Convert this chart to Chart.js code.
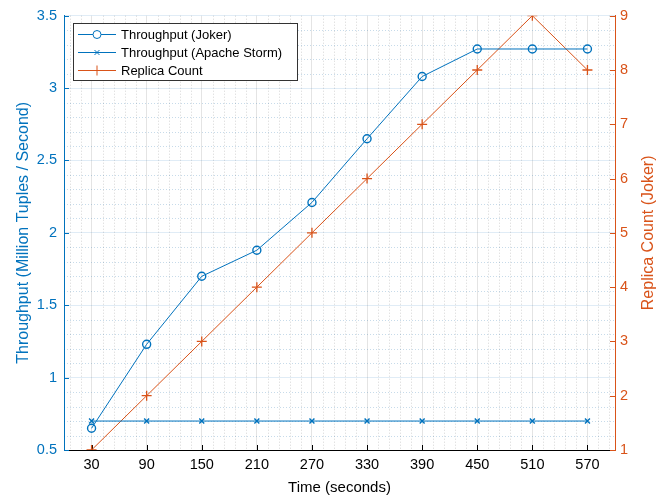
<!DOCTYPE html>
<html>
<head>
<meta charset="utf-8">
<script src="https://cdn.jsdelivr.net/npm/chart.js@4/dist/chart.umd.min.js"></script>
<style>
  html, body { margin: 0; padding: 0; background: #fff; }
  #wrap { width: 664px; height: 498px; }
</style>
</head>
<body>
<div id="wrap"><canvas id="chart" width="664" height="498"></canvas></div>
<script>
const times = ['30', '90', '150', '210', '270', '330', '390', '450', '510', '570'];
const jokerThroughput = [0.65, 1.23, 1.70, 1.88, 2.21, 2.65, 3.08, 3.27, 3.27, 3.27];
const stormThroughput = [0.70, 0.70, 0.70, 0.70, 0.70, 0.70, 0.70, 0.70, 0.70, 0.70];
const replicaCount = [1, 2, 3, 4, 5, 6, 7, 8, 9, 8];
const leftTicks = [0.5, 1, 1.5, 2, 2.5, 3, 3.5];
const rightTicks = [1, 2, 3, 4, 5, 6, 7, 8, 9];

const BLUE = '#0072BD';
const ORANGE = '#D95319';
const FONT = 'Liberation Sans, Arial, Helvetica, sans-serif';

// dotted minor grid + inward tick marks, drawn under the lines
const minorGrid = {
  id: 'minorGrid',
  beforeDatasetsDraw(chart) {
    const { ctx, chartArea: a, scales } = chart;
    const x = scales.x, y = scales.y, y1 = scales.y1;
    ctx.save();
    ctx.lineWidth = 1;
    ctx.setLineDash([1, 2]);
    ctx.strokeStyle = 'rgba(90,90,90,0.25)';
    for (let j = -2; j <= 47; j++) {
      if (j % 5 === 0) continue;
      const px = Math.round(x.getPixelForValue(j * 0.2)) + 0.5;
      if (px <= a.left + 1 || px >= a.right - 1) continue;
      ctx.beginPath(); ctx.moveTo(px, a.top); ctx.lineTo(px, a.bottom); ctx.stroke();
    }
    ctx.strokeStyle = 'rgba(0,90,160,0.22)';
    for (let k = 6; k < 35; k++) {
      if (k % 5 === 0) continue;
      const py = Math.round(y.getPixelForValue(k / 10)) + 0.5;
      ctx.beginPath(); ctx.moveTo(a.left, py); ctx.lineTo(a.right, py); ctx.stroke();
    }
    ctx.setLineDash([]);
    const len = 5;
    ctx.strokeStyle = '#000';
    times.forEach((t, i) => {
      const px = Math.round(x.getPixelForValue(i)) + 0.5;
      ctx.beginPath(); ctx.moveTo(px, a.bottom); ctx.lineTo(px, a.bottom - len); ctx.stroke();
    });
    ctx.strokeStyle = BLUE;
    leftTicks.forEach(v => {
      const py = Math.round(y.getPixelForValue(v)) + 0.5;
      ctx.beginPath(); ctx.moveTo(a.left, py); ctx.lineTo(a.left + len, py); ctx.stroke();
    });
    ctx.strokeStyle = ORANGE;
    rightTicks.forEach(v => {
      const py = Math.round(y1.getPixelForValue(v)) + 0.5;
      ctx.beginPath(); ctx.moveTo(a.right, py); ctx.lineTo(a.right - len, py); ctx.stroke();
    });
    ctx.restore();
  }
};

// right axis title, reading bottom to top like the left one
const rightTitle = {
  id: 'rightTitle',
  afterDraw(chart) {
    const { ctx, chartArea: a } = chart;
    ctx.save();
    ctx.translate(649, (a.top + a.bottom) / 2);
    ctx.rotate(-Math.PI / 2);
    ctx.font = '16px ' + FONT;
    ctx.fillStyle = ORANGE;
    ctx.textAlign = 'center';
    ctx.textBaseline = 'middle';
    ctx.fillText('Replica Count (Joker)', 0, 0);
    ctx.restore();
  }
};

// boxed legend in the upper-left corner of the plot
const boxLegend = {
  id: 'boxLegend',
  afterDraw(chart) {
    const { ctx } = chart;
    const left = 73.5, top = 23.5, w = 224, h = 57;
    ctx.save();
    ctx.fillStyle = '#fff';
    ctx.fillRect(left, top, w, h);
    ctx.strokeStyle = '#333';
    ctx.lineWidth = 1;
    ctx.strokeRect(left, top, w, h);
    ctx.font = '13px ' + FONT;
    ctx.textBaseline = 'middle';
    chart.data.datasets.forEach((ds, i) => {
      const cy = 34.5 + i * 18;
      ctx.strokeStyle = ds.borderColor;
      ctx.lineWidth = 1;
      ctx.beginPath(); ctx.moveTo(78, cy); ctx.lineTo(116, cy); ctx.stroke();
      Chart.helpers.drawPoint(ctx, {
        pointStyle: ds.pointStyle, radius: ds.pointRadius, borderWidth: 1.3
      }, 97, cy);
      ctx.fillStyle = '#000';
      ctx.fillText(ds.label, 121, cy + 1);
    });
    ctx.restore();
  }
};

new Chart(document.getElementById('chart'), {
  type: 'line',
  data: {
    labels: times,
    datasets: [{
      label: 'Throughput (Joker)',
      data: jokerThroughput,
      yAxisID: 'y',
      borderColor: BLUE,
      borderWidth: 1,
      pointStyle: 'circle',
      pointRadius: 4,
      pointBorderWidth: 1.4,
      pointBackgroundColor: 'rgba(0,0,0,0)',
      pointBorderColor: BLUE
    }, {
      label: 'Throughput (Apache Storm)',
      data: stormThroughput,
      yAxisID: 'y',
      borderColor: BLUE,
      borderWidth: 1,
      pointStyle: 'crossRot',
      pointRadius: 3.5,
      pointBorderWidth: 1.4,
      pointBorderColor: BLUE
    }, {
      label: 'Replica Count',
      data: replicaCount,
      yAxisID: 'y1',
      borderColor: ORANGE,
      borderWidth: 1,
      pointStyle: 'cross',
      pointRadius: 5,
      pointBorderWidth: 1.3,
      pointBorderColor: ORANGE
    }]
  },
  options: {
    responsive: false,
    animation: false,
    layout: { padding: { top: 13, left: 0, right: 0, bottom: 0 } },
    plugins: {
      legend: { display: false },
      tooltip: { enabled: false }
    },
    elements: { line: { tension: 0 } },
    scales: {
      x: {
        type: 'category',
        offset: true,
        afterFit(s) { s.height = 48; },
        border: { color: '#000', width: 1 },
        grid: { color: '#e4e4e4', drawTicks: false, offset: false },
        ticks: { color: '#000', padding: 6, font: { family: FONT, size: 14.5 }, maxRotation: 0 },
        title: { display: true, text: 'Time (seconds)', color: '#000', padding: { top: 0, bottom: 1 },
                 font: { family: FONT, size: 15 } }
      },
      y: {
        position: 'left',
        min: 0.5, max: 3.5,
        afterFit(s) { s.width = 64; },
        afterBuildTicks(s) { s.ticks = leftTicks.map(v => ({ value: v })); },
        border: { color: BLUE, width: 1 },
        grid: { color: 'rgba(0,100,180,0.12)', drawTicks: false },
        ticks: { color: BLUE, padding: 7, font: { family: FONT, size: 14.5 }, callback: v => String(v) },
        title: { display: true, text: 'Throughput (Million Tuples / Second)', color: BLUE,
                 padding: { top: 14, bottom: 0 }, font: { family: FONT, size: 16 } }
      },
      y1: {
        position: 'right',
        min: 1, max: 9,
        afterFit(s) { s.width = 49; },
        afterBuildTicks(s) { s.ticks = rightTicks.map(v => ({ value: v })); },
        border: { color: ORANGE, width: 1 },
        grid: { display: false, drawTicks: false },
        ticks: { color: ORANGE, padding: 5, font: { family: FONT, size: 14.5 } }
      }
    }
  },
  plugins: [minorGrid, rightTitle, boxLegend]
});
</script>
</body>
</html>
